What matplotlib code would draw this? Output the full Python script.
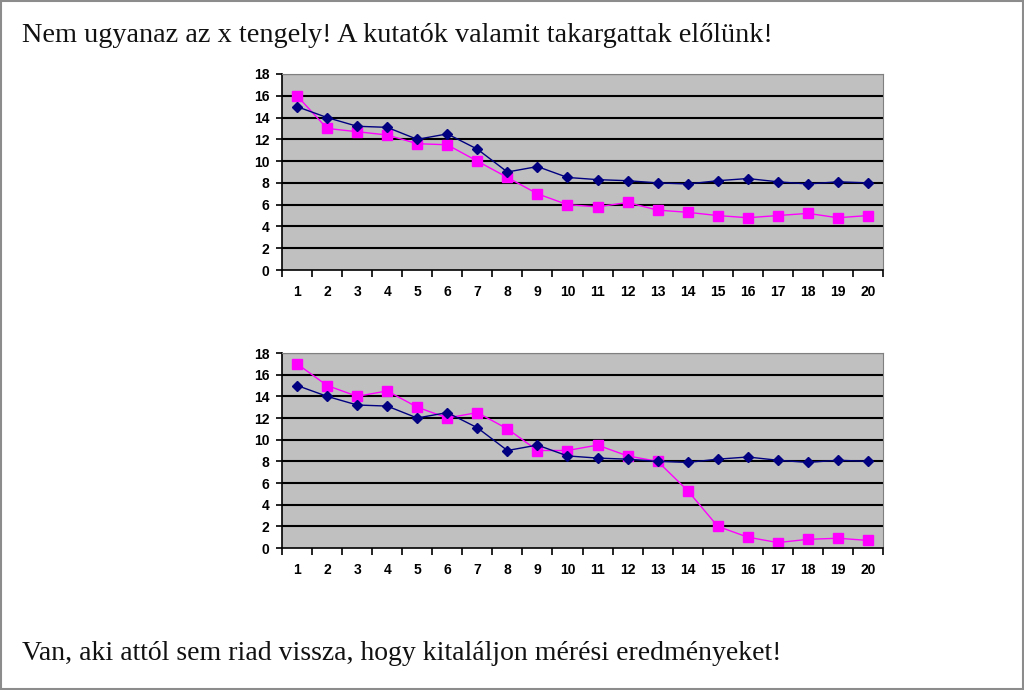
import numpy as np
import matplotlib.pyplot as plt
from matplotlib.patches import Rectangle

# data
labels = [str(i) for i in range(1, 21)]
blue = [15, 14, 13.2, 13.1, 12, 12.5, 11.1, 9, 9.5, 8.5,
        8.3, 8.2, 8.0, 7.9, 8.2, 8.4, 8.1, 7.9, 8.1, 8.0]
pink_top = [16, 13, 12.7, 12.4, 11.6, 11.5, 10, 8.5, 7, 6,
            5.8, 6.2, 5.5, 5.3, 5.0, 4.8, 5.0, 5.2, 4.8, 5.0]
pink_bottom = [17, 15, 14, 14.5, 13, 12, 12.5, 11, 9, 9,
               9.5, 8.5, 8, 5.3, 2, 1, 0.5, 0.8, 0.9, 0.7]
yticks = list(range(0, 19, 2))

title = "Nem ugyanaz az x tengely! A kutatók valamit takargattak előlünk!"
footer = "Van, aki attól sem riad vissza, hogy kitaláljon mérési eredményeket!"

fig = plt.figure(figsize=(10.24, 6.9), dpi=100)
fig.patches.append(Rectangle((0.001, 0.001), 0.998, 0.998, transform=fig.transFigure,
                             fill=False, edgecolor='#8c8c8c', linewidth=1.5))

fig.text(22 / 1024, 1 - 35 / 690, title, family='Liberation Serif', fontsize=20.3,
         va='center', ha='left', color='#111111')
fig.text(22 / 1024, 1 - 654 / 690, footer, family='Liberation Serif', fontsize=20.0,
         va='center', ha='left', color='#111111')

x = np.arange(len(labels))


def draw(ax, pink):
    ax.set_facecolor('#c0c0c0')
    for y in yticks[1:]:
        ax.axhline(y, color='black', linewidth=1.5, zorder=1)
    ax.plot(x, blue, color='#000080', marker='D', markersize=5, linewidth=1, zorder=3)
    ax.plot(x, pink, color='#ff00ff', marker='s', markersize=7, linewidth=1, zorder=2)
    ax.set_xlim(-0.5, len(labels) - 0.5)
    ax.set_ylim(0, 18)
    ax.set_yticks(yticks)
    ax.set_xticks(x)
    ax.set_xticklabels(labels)
    ax.set_xticks(np.arange(-0.5, len(labels), 1), minor=True)
    ax.tick_params(axis='x', which='major', length=0, pad=11)
    ax.tick_params(axis='x', which='minor', length=5, width=1.2, direction='out')
    ax.tick_params(axis='y', length=4, width=1.2, direction='out', pad=5)
    for lab in ax.get_xticklabels() + ax.get_yticklabels():
        lab.set_fontfamily('Liberation Sans')
        lab.set_fontweight('bold')
        lab.set_fontsize(10)
    ax.spines['left'].set_color('black')
    ax.spines['bottom'].set_color('black')
    ax.spines['left'].set_linewidth(1.2)
    ax.spines['bottom'].set_linewidth(1.2)
    ax.spines['top'].set_color('#808080')
    ax.spines['right'].set_color('#808080')


ax1 = fig.add_axes([282 / 1024, 1 - 270 / 690, 601 / 1024, 196 / 690])
draw(ax1, pink_top)
ax2 = fig.add_axes([282 / 1024, 1 - 548 / 690, 601 / 1024, 195 / 690])
draw(ax2, pink_bottom)

fig.savefig('out.png', dpi=100)
